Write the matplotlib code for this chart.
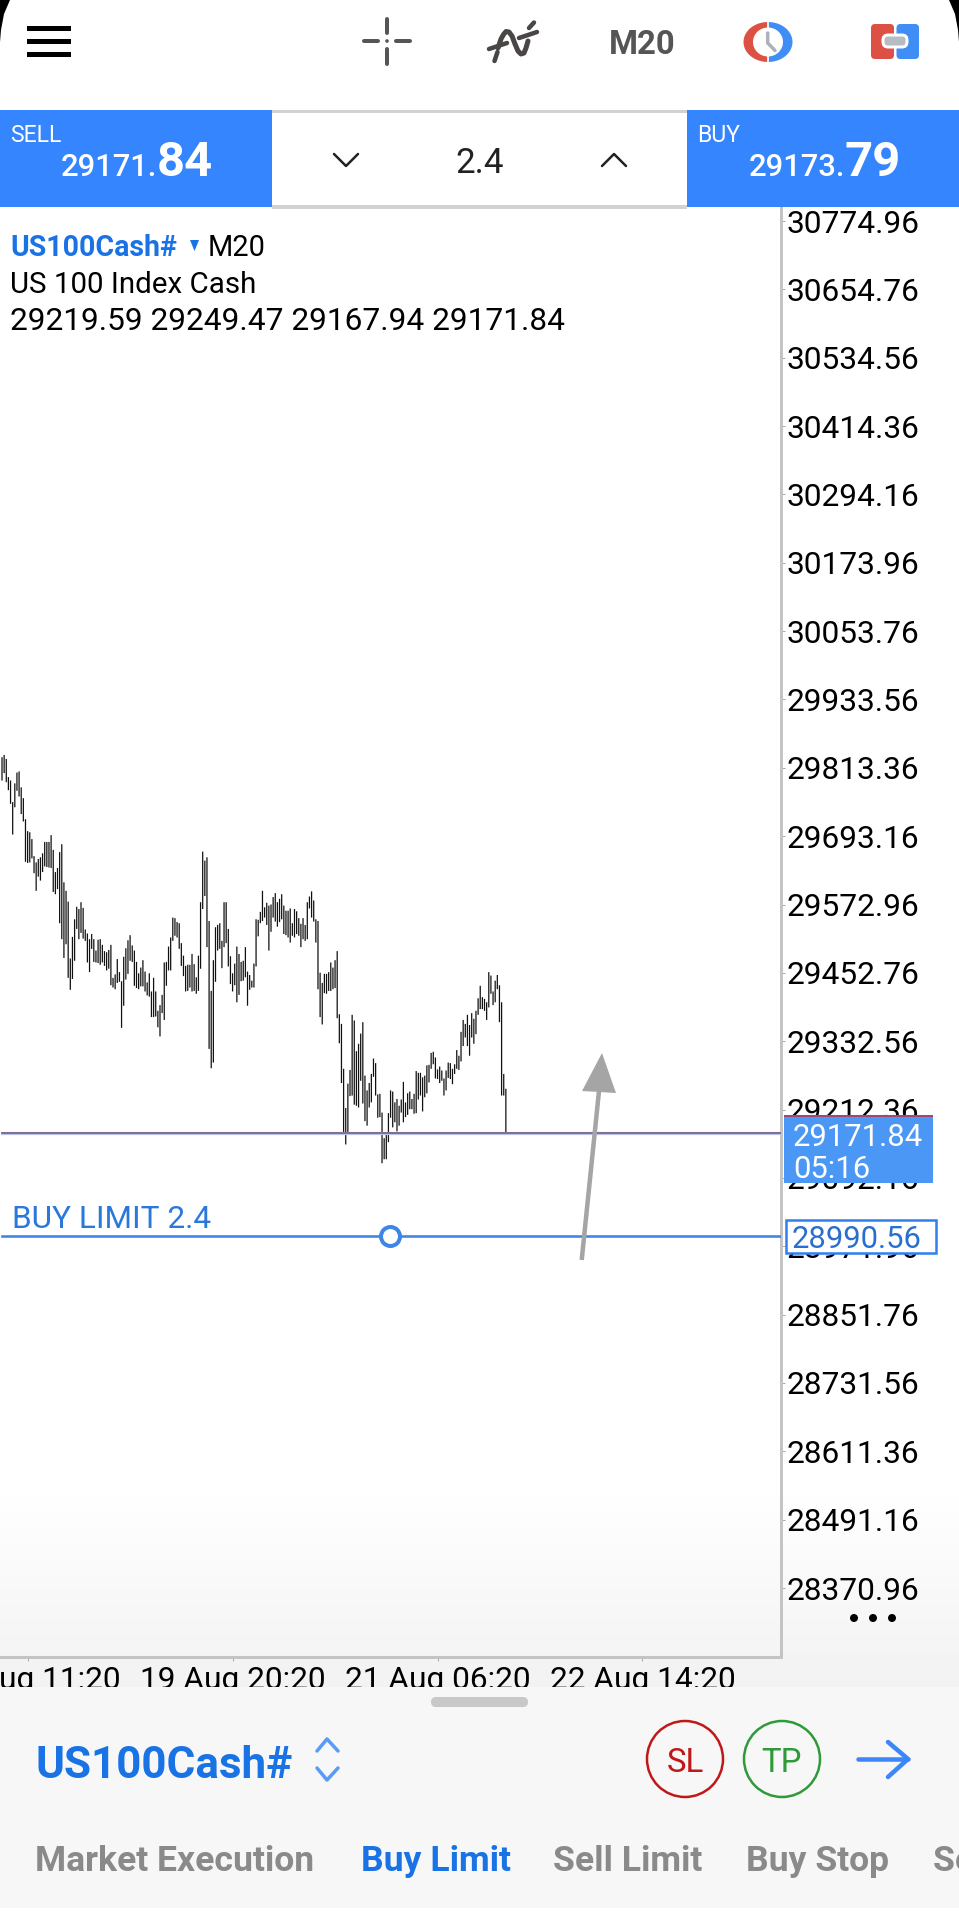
#!/usr/bin/env python3
# -*- coding: utf-8 -*-
import matplotlib
matplotlib.use("Agg")
import matplotlib.pyplot as plt
from matplotlib.patches import Rectangle, FancyBboxPatch, Ellipse, Circle, Polygon
import numpy as np

plt.rcParams['font.family'] = ['Roboto', 'DejaVu Sans']

# bar highs and lows, oldest bar first
highs = [29832,29836,29829,29797,29791,29753,29786,29805,29807,29779,29760,29723,29702,29700,29688,29658,
         29647,29653,29656,29663,29683,29683,29683,29695,29669,29630,29637,29665,29679,29612,29597,29578,
         29478,29516,29547,29569,29565,29577,29567,29529,29522,29512,29521,29512,29492,29511,29512,29502,
         29491,29489,29493,29502,29444,29450,29477,29454,29438,29481,29496,29510,29519,29501,29492,29472,
         29452,29462,29475,29455,29436,29452,29420,29444,29420,29386,29396,29414,29471,29472,29499,29515,
         29550,29549,29542,29540,29505,29483,29465,29467,29467,29486,29468,29445,29483,29577,29666,29650,
         29656,29544,29421,29475,29533,29537,29540,29509,29577,29577,29530,29482,29452,29469,29499,29486,
         29472,29474,29498,29455,29449,29439,29469,29547,29546,29560,29597,29568,29576,29571,29573,29586,
         29593,29577,29583,29591,29571,29562,29562,29566,29540,29565,29561,29549,29539,29549,29537,29577,
         29587,29596,29580,29547,29544,29453,29435,29451,29451,29454,29471,29462,29475,29491,29380,29363,
         29284,29215,29258,29282,29379,29369,29315,29328,29346,29366,29272,29246,29259,29275,29302,29294,
         29239,29240,29207,29162,29171,29206,29246,29244,29225,29231,29219,29230,29261,29225,29241,29244,
         29231,29240,29280,29277,29277,29269,29272,29290,29291,29312,29314,29304,29283,29288,29281,29267,
         29281,29295,29294,29284,29292,29317,29307,29349,29370,29363,29379,29361,29382,29372,29386,29408,
         29430,29410,29407,29401,29454,29448,29420,29439,29449,29431,29401,29275,29249]
lows = [29791,29804,29788,29774,29750,29696,29744,29773,29763,29732,29719,29648,29646,29647,29654,29628,
        29597,29622,29615,29630,29640,29639,29638,29637,29595,29591,29600,29540,29512,29479,29503,29444,
        29423,29442,29474,29530,29512,29523,29513,29509,29471,29454,29495,29472,29471,29470,29467,29471,
        29465,29457,29460,29431,29427,29424,29435,29437,29356,29395,29441,29451,29474,29472,29430,29426,
        29424,29429,29429,29420,29413,29411,29375,29375,29376,29357,29341,29382,29370,29430,29457,29457,
        29509,29518,29515,29495,29465,29447,29420,29421,29427,29420,29421,29416,29421,29460,29565,29588,
        29498,29319,29285,29295,29437,29492,29495,29461,29498,29505,29464,29433,29420,29431,29401,29414,
        29438,29439,29445,29395,29423,29427,29427,29464,29517,29540,29544,29550,29537,29492,29525,29550,
        29543,29534,29542,29547,29521,29519,29515,29506,29518,29515,29521,29518,29498,29512,29509,29512,
        29566,29550,29543,29506,29424,29375,29362,29417,29416,29421,29421,29424,29426,29373,29329,29259,
        29173,29151,29168,29236,29237,29221,29219,29216,29263,29223,29192,29184,29216,29225,29270,29237,
        29198,29199,29118,29125,29125,29155,29198,29181,29190,29174,29184,29207,29190,29199,29203,29213,
        29213,29205,29206,29230,29237,29209,29234,29241,29260,29284,29292,29267,29266,29259,29263,29237,
        29246,29268,29266,29257,29275,29284,29282,29297,29324,29339,29324,29307,29339,29328,29345,29379,
        29389,29389,29386,29370,29392,29416,29396,29401,29424,29366,29237,29237,29168]

price_ticks = [30774.96,30654.76,30534.56,30414.36,30294.16,30173.96,30053.76,29933.56,29813.36,29693.16,29572.96,
               29452.76,29332.56,29212.36,29092.16,28971.96,28851.76,28731.56,28611.36,28491.16,28370.96]
time_positions = [12, 108, 204, 300]
time_labels = ['18 Aug 11:20', '19 Aug 20:20', '21 Aug 06:20', '22 Aug 14:20']
last_price = 29171.84
limit_price = 28990.56
limit_handle_bar = 181.5

W, H = 959, 1920
BLUE = '#3585fe'
TEXTBLUE = '#1a73e4'
GREY = '#8a8a8a'
DARK = '#555555'

def px(v):
    return v*72.0/100

fig = plt.figure(figsize=(W/100, H/100), dpi=100)

# background with the fade at the bottom of the screen
bg = fig.add_axes([0, 0, 1, 1], zorder=0)
shade = np.ones((H, 1))
shade[1480:1700, 0] = np.linspace(1.0, 0.945, 220)
shade[1700:, 0] = 0.945
bg.imshow(shade, cmap='gray', vmin=0, vmax=1, aspect='auto', extent=(0, W, H, 0))
bg.axis('off')

# chart
top, bottom, right = 208, 1657, 781
ax = fig.add_axes([0, 1-bottom/H, right/W, (bottom-top)/H], zorder=1)
ax.patch.set_alpha(0)
per_px = 120.2/68.35
first_tick_y = 221.0
ax.set_ylim(30774.96-(bottom-first_tick_y)*per_px, 30774.96+(first_tick_y-top)*per_px)
bar_px = 2.135
ax.set_xlim(-2/bar_px, (right-2)/bar_px)
x = np.arange(len(highs))
bars = ax.vlines(x, lows, highs, colors='#111111', linewidth=px(1.25))
bars.set_snap(False)
line_from = 2/right
ax.axhline(last_price, xmin=line_from, color='#b9c6e6', lw=px(3.2), zorder=3)
ax.axhline(last_price, xmin=line_from, color='#7d5f86', lw=px(1.7), zorder=3)
ax.axhline(limit_price, xmin=line_from, color='#3d86e6', lw=px(2.6), zorder=3)
ax.plot([limit_handle_bar], [limit_price], 'o', ms=px(19), mfc='white', mec='#3d86e6', mew=px(4), zorder=4)

ax.yaxis.tick_right()
ax.set_yticks(price_ticks)
ax.set_yticklabels(['%.2f' % p for p in price_ticks], fontsize=px(31.6), color='black')
ax.set_xticks(time_positions)
ax.set_xticklabels(time_labels, fontsize=px(31.6), color='black')
ax.tick_params(axis='y', length=px(4), width=px(1), color='#a8a8a8', pad=px(2))
ax.tick_params(axis='x', length=px(4), width=px(1), color='#a8a8a8', pad=px(5))
for s in ['top', 'left']:
    ax.spines[s].set_visible(False)
for s in ['right', 'bottom']:
    ax.spines[s].set_color('#c4c4c4')
    ax.spines[s].set_linewidth(px(3))

# everything else is app screen furniture, laid out in screen pixels
ui = fig.add_axes([0, 0, 1, 1], zorder=2)
ui.set_xlim(0, W)
ui.set_ylim(H, 0)
ui.axis('off')
ui.patch.set_alpha(0)

def label(xp, yp, s, size, color='black', ha='left', weight='normal', **kw):
    return ui.text(xp, yp, s, fontsize=px(size), color=color, ha=ha, va='center_baseline', fontweight=weight, **kw)

def rect(x0, y0, x1, y1, color, **kw):
    ui.add_patch(Rectangle((x0, y0), x1-x0, y1-y0, fc=color, ec='none', **kw))

def stroke(xs, ys, color, lw, **kw):
    ui.plot(xs, ys, color=color, lw=px(lw), solid_capstyle='round', solid_joinstyle='round', **kw)

# screen corners
ui.add_patch(Polygon([(0, 0), (10, 0), (4, 14), (1, 30), (0, 42)], fc='black', ec='none'))
ui.add_patch(Polygon([(W, 0), (W-10, 0), (W-4, 14), (W-1, 30), (W, 42)], fc='black', ec='none'))

# toolbar
for yy in [28, 41.5, 54]:
    rect(27, yy-2.5, 71, yy+2.5, 'black')
for xs, ys in [([387, 387], [19, 33]), ([387, 387], [49, 64]), ([364, 378], [41, 41]), ([396, 410], [41, 41])]:
    stroke(xs, ys, DARK, 4)
ui.add_patch(Circle((387, 41), 1.8, fc=DARK, ec='none'))
ICON = '#4a4646'
stroke([498, 501, 503.5, 506, 509, 512, 515, 518, 521, 524, 526, 528],
       [48, 39, 34.5, 31.5, 32, 36, 44, 51, 54, 53, 48, 41], ICON, 5)
stroke([494.5, 497.5], [61, 52], ICON, 4.5)
stroke([489, 507], [49, 43], ICON, 4.5)
stroke([519, 537], [38, 32], ICON, 4.5)
stroke([529, 534], [28, 22.5], ICON, 4.5)
label(642, 41, 'M20', 33, DARK, ha='center', weight='bold')

# clock icon
t1 = np.radians(np.linspace(92, 268, 40))
t2 = np.radians(np.linspace(-88, 88, 40))
ui.add_patch(Polygon(np.c_[768+24.5*np.cos(t1), 42-20*np.sin(t1)], fc='#dd5144', ec='none'))
ui.add_patch(Polygon(np.c_[768+24.5*np.cos(t2), 42-20*np.sin(t2)], fc='#3f8df5', ec='none'))
ui.add_patch(Ellipse((768, 42), 30, 29, fc='white', ec='none'))
stroke([767.7, 767.7, 775], [33, 43, 50.5], '#aab3bb', 3.5)

# account switch icon
ui.add_patch(FancyBboxPatch((871, 24), 23, 35, boxstyle='round,pad=0,rounding_size=4', fc='#dd5144', ec='none'))
ui.add_patch(FancyBboxPatch((896.5, 24), 22.5, 35, boxstyle='round,pad=0,rounding_size=4', fc='#3f8df5', ec='none'))
ui.add_patch(FancyBboxPatch((883, 35), 24, 12, boxstyle='round,pad=0,rounding_size=5', fc='#b6bcc2', ec='white', lw=px(3)))

# price strip
rect(272, 110, 687, 209, 'white')
rect(272, 110, 687, 113, '#d2d2d2')
rect(272, 205, 687, 209, '#d2d2d2')
rect(0, 110, 272, 207, BLUE)
rect(687, 110, W, 207, BLUE)
label(10, 133, 'SELL', 23, 'white')
label(61, 165, '29171.', 31, 'white', weight='medium')
label(157, 158, '84', 49, 'white', weight='bold')
label(697, 133, 'BUY', 23, 'white')
label(749, 165, '29173.', 31, 'white', weight='medium')
label(845, 158, '79', 49, 'white', weight='bold')
label(480, 160, '2.4', 35, '#222222', ha='center')
stroke([334, 346, 358], [154, 166, 154], '#222222', 2.5)
stroke([602, 614, 626], [166, 154, 166], '#222222', 2.5)

# symbol header
label(10, 245, 'US100Cash#', 28.5, TEXTBLUE, weight='bold')
ui.add_patch(Polygon([(190, 240), (199, 240), (194.5, 251)], fc=TEXTBLUE, ec='none'))
label(208, 245, 'M20', 29)
label(10, 282, 'US 100 Index Cash', 29.5)
label(10, 319, '29219.59 29249.47 29167.94 29171.84', 31.7)

# price boxes on the axis
rect(784, 1116, 933, 1183, '#4a97f6')
rect(784, 1115, 933, 1117, '#a2486f')
label(793, 1134, '29171.84', 31, 'white')
label(793, 1167, '05:16', 31, 'white')
ui.add_patch(Rectangle((786, 1220), 150, 33, fc='white', ec='#2f80ed', lw=px(2.5)))
label(792, 1237, '28990.56', 31, '#2a6fd0')
label(12, 1217, 'BUY LIMIT 2.4', 31.5, '#2a78dc')

# hand drawn arrow
ui.plot([581.7, 599], [1260, 1091], color='#a5a5a5', lw=px(4.5), solid_capstyle='butt')
ui.add_patch(Polygon([(602, 1053), (582, 1091), (616, 1093)], fc='#a5a5a5', ec='none'))

# chart menu dots
for xd in [854, 873, 892]:
    ui.add_patch(Ellipse((xd, 1618), 8, 8, fc='black', ec='none'))

# order panel
ui.add_patch(FancyBboxPatch((-30, 1687), W+60, 221, boxstyle='round,pad=0,rounding_size=30', fc='#f7f7f7', ec='none'))
rect(0, 1908, W, H, 'white')
ui.add_patch(FancyBboxPatch((431, 1697), 97, 10, boxstyle='round,pad=0,rounding_size=5', fc='#c8c8c8', ec='none'))
label(35, 1761, 'US100Cash#', 44, TEXTBLUE, weight='bold')
stroke([317, 327, 338], [1751, 1739, 1751], '#5c9bf5', 3.5)
stroke([317, 327, 338], [1768, 1780, 1768], '#5c9bf5', 3.5)
ui.add_patch(Circle((685, 1759), 38, fc='none', ec='#c01818', lw=px(2.5)))
label(685, 1760, 'SL', 33, '#c01818', ha='center')
ui.add_patch(Circle((782, 1759), 38, fc='none', ec='#2e9a3a', lw=px(2.5)))
label(782, 1760, 'TP', 33, '#2e9a3a', ha='center')
stroke([858, 908], [1759, 1759], '#3d86f7', 4.5)
stroke([888, 908, 888], [1742, 1759, 1777], '#3d86f7', 4.5)
label(35, 1858, 'Market Execution', 35.5, GREY, weight='bold')
label(361, 1858, 'Buy Limit', 35.5, TEXTBLUE, weight='bold')
label(553, 1858, 'Sell Limit', 35.5, GREY, weight='bold')
label(746, 1858, 'Buy Stop', 35.5, GREY, weight='bold')
label(933, 1858, 'Sell Stop', 35.5, GREY, weight='bold')

fig.savefig('out.png', dpi=100)
